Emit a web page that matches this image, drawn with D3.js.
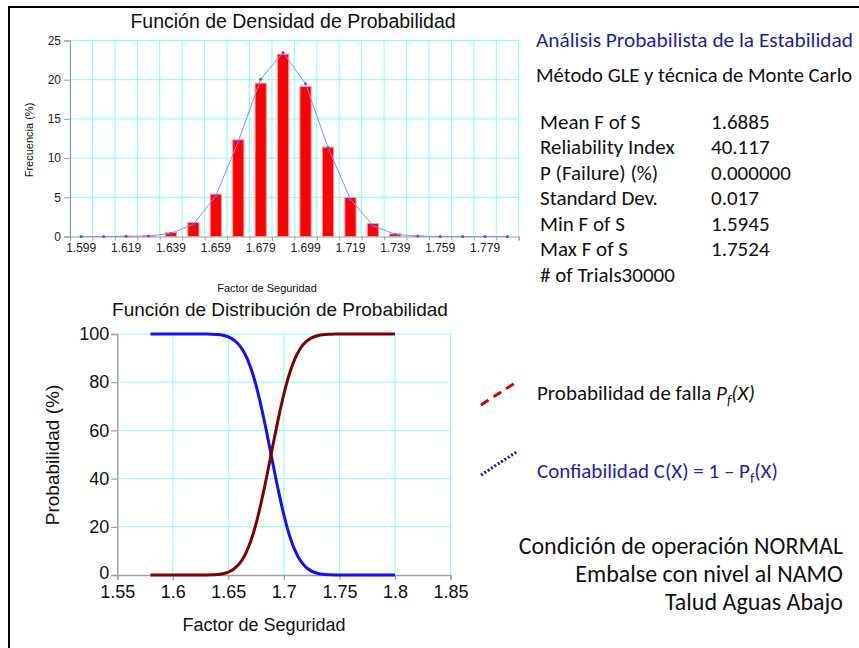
<!DOCTYPE html>
<html><head><meta charset="utf-8">
<script src="https://cdn.jsdelivr.net/npm/d3@7"></script>
<style>
html,body{margin:0;padding:0;background:#fff;}
svg{display:block;}
</style>
</head><body>
<svg id="c" width="859" height="648"></svg>
<script>
// ---------- DATA ----------
const histCenters = [1.599,1.609,1.619,1.629,1.639,1.649,1.659,1.669,1.679,1.689,1.699,1.709,1.719,1.729,1.739,1.749,1.759,1.769,1.779,1.789];
const histBars    = [0,0,0.04,0.13,0.51,1.79,5.40,12.33,19.56,23.26,19.13,11.39,4.97,1.66,0.34,0.08,0,0,0,0];
const histLine    = [0,0,0.02,0.06,0.38,1.57,5.19,12.12,20.07,23.47,19.47,11.35,4.76,1.40,0.26,0.05,0,0,0,0];
const histXTicks  = [1.599,1.619,1.639,1.659,1.679,1.699,1.719,1.739,1.759,1.779];
const histYTicks  = [0,5,10,15,20,25];

const cdfX = [1.580,1.585,1.590,1.595,1.600,1.605,1.610,1.615,1.620,1.625,1.630,1.635,1.640,1.645,1.650,1.655,1.660,1.665,1.670,1.675,1.680,1.685,1.690,1.695,1.700,1.705,1.710,1.715,1.720,1.725,1.730,1.735,1.740,1.745,1.750,1.755,1.760,1.765,1.770,1.775,1.780,1.785,1.790,1.795,1.800];
const pfValues   = [0,0,0,0,0,0,0,0,0,0.01,0.03,0.08,0.2,0.5,1.2,2.5,4.7,8.3,13.8,21.3,30.9,41.8,53.5,64.8,75.0,83.5,89.8,94.1,96.8,98.4,99.3,99.7,99.9,99.95,100,100,100,100,100,100,100,100,100,100,100];
const confValues = [100,100,100,100,100,100,100,100,100,99.99,99.97,99.92,99.8,99.5,98.8,97.5,95.3,91.7,86.2,78.7,69.1,58.2,46.5,35.2,25.0,16.5,10.2,5.9,3.2,1.6,0.7,0.3,0.1,0.05,0,0,0,0,0,0,0,0,0,0,0];
const cdfXTicks = [1.55,1.6,1.65,1.7,1.75,1.8,1.85];
const cdfYTicks = [0,20,40,60,80,100];

const statLabels = ["Mean F of S","Reliability Index","P (Failure) (%)","Standard Dev.","Min F of S","Max F of S","# of Trials"];
const statValues = ["1.6885","40.117","0.000000","0.017","1.5945","1.7524",""];
const footerLines = ["Condición de operación NORMAL","Embalse con nivel al NAMO","Talud Aguas Abajo"];

// ---------- DRAW ----------
const svg = d3.select("#c");
const ARIAL = "'Liberation Sans', Arial, sans-serif";
const CAL = "Carlito, Lato, sans-serif";
const GRID = "#80ffff";
const AXIS = "#a0a0a0";

svg.append("rect").attr("width",859).attr("height",648).attr("fill","#fff");
svg.append("rect").attr("x",9).attr("y",7).attr("width",900).attr("height",700)
  .attr("fill","none").attr("stroke","#000").attr("stroke-width",2);

// ===== Top histogram =====
const hx = d3.scaleLinear().domain([1.594,1.794]).range([70,518.7]);
const hy = d3.scaleLinear().domain([0,25]).range([236.5,40.5]);
const gTop = svg.append("g");
const cellEdges = d3.range(21).map(i => 1.594 + i*0.01);
gTop.append("g").selectAll("line").data(cellEdges).join("line")
  .attr("x1",d=>hx(d)).attr("x2",d=>hx(d)).attr("y1",hy(0)).attr("y2",hy(25))
  .attr("stroke",GRID).attr("stroke-width",1);
gTop.append("g").selectAll("line").data(histYTicks.slice(1)).join("line")
  .attr("x1",hx(1.594)).attr("x2",hx(1.794)).attr("y1",d=>hy(d)).attr("y2",d=>hy(d))
  .attr("stroke",GRID).attr("stroke-width",1);

const cellW = hx(1.604)-hx(1.594);
const bw = cellW*0.5;
gTop.append("g").selectAll("rect").data(histCenters.map((c,i)=>({c,v:histBars[i]})).filter(d=>d.v>0)).join("rect")
  .attr("x",d=>hx(d.c)-bw/2).attr("width",bw)
  .attr("y",d=>hy(d.v)).attr("height",d=>hy(0)-hy(d.v))
  .attr("fill","#ff0000").attr("stroke","#ff9a9a").attr("stroke-width",1);

const hAxisY = d3.axisLeft(hy).tickValues(histYTicks).tickSize(6).tickPadding(3).tickFormat(d3.format("d"));
const gy = gTop.append("g").attr("transform",`translate(${hx(1.594)},0)`).call(hAxisY);
gy.select(".domain").attr("stroke",AXIS).attr("stroke-width",1.2);
gy.selectAll(".tick line").attr("stroke",AXIS);
gy.selectAll(".tick text").attr("font-family",ARIAL).attr("font-size",12).attr("fill","#222");

const hAxisX = d3.axisBottom(hx).tickValues(cellEdges).tickSize(4).tickFormat("");
const gx = gTop.append("g").attr("transform",`translate(0,${hy(0)})`).call(hAxisX);
gx.select(".domain").attr("stroke",AXIS).attr("stroke-width",1.2);
gx.selectAll(".tick line").attr("stroke",AXIS);
gTop.append("g").selectAll("text").data(histXTicks).join("text")
  .attr("x",d=>hx(d)).attr("y",251.5).attr("text-anchor","middle")
  .attr("font-family",ARIAL).attr("font-size",12).attr("fill","#222")
  .text(d=>d3.format(".3f")(d));

const hl = d3.line().x((d,i)=>hx(histCenters[i])).y(d=>hy(d));
gTop.append("path").datum(histLine).attr("d",hl).attr("fill","none")
  .attr("stroke","#8c8cff").attr("stroke-width",1);
gTop.append("g").selectAll("circle").data(histLine).join("circle")
  .attr("cx",(d,i)=>hx(histCenters[i])).attr("cy",d=>hy(d)).attr("r",1.5)
  .attr("fill","#5050ff");

gTop.append("text").attr("x",293).attr("y",28).attr("text-anchor","middle")
  .attr("font-family",ARIAL).attr("font-size",19.5).attr("fill","#111")
  .text("Función de Densidad de Probabilidad");
gTop.append("text").attr("transform","translate(33,140) rotate(-90)").attr("text-anchor","middle")
  .attr("font-family",ARIAL).attr("font-size",11).attr("fill","#111")
  .text("Frecuencia (%)");
gTop.append("text").attr("x",267).attr("y",292).attr("text-anchor","middle")
  .attr("font-family",ARIAL).attr("font-size",11).attr("fill","#111")
  .text("Factor de Seguridad");

// ===== Bottom CDF =====
const cx = d3.scaleLinear().domain([1.55,1.85]).range([117.2,450.5]);
const cy = d3.scaleLinear().domain([0,100]).range([575,334]);
const gBot = svg.append("g");
gBot.append("g").selectAll("line").data(cdfXTicks.slice(1)).join("line")
  .attr("x1",d=>cx(d)).attr("x2",d=>cx(d)).attr("y1",cy(0)).attr("y2",cy(100))
  .attr("stroke",GRID).attr("stroke-width",1);
gBot.append("g").selectAll("line").data(cdfYTicks.slice(1)).join("line")
  .attr("x1",cx(1.55)).attr("x2",cx(1.85)).attr("y1",d=>cy(d)).attr("y2",d=>cy(d))
  .attr("stroke",GRID).attr("stroke-width",1);

const cAxisY = d3.axisLeft(cy).tickValues(cdfYTicks).tickSize(6).tickPadding(2);
const gcy = gBot.append("g").attr("transform",`translate(${cx(1.55)},0)`).call(cAxisY);
gcy.select(".domain").attr("stroke",AXIS).attr("stroke-width",1.5);
gcy.selectAll(".tick line").attr("stroke",AXIS).attr("stroke-width",1.2);
gcy.selectAll(".tick text").attr("font-family",ARIAL).attr("font-size",18).attr("fill","#111");
gcy.selectAll(".tick text").filter(d=>d===0).attr("dy","0.2em");

const cAxisX = d3.axisBottom(cx).tickValues(cdfXTicks).tickSize(5).tickPadding(5).tickFormat(d=>String(+d.toFixed(2)));
const gcx = gBot.append("g").attr("transform",`translate(0,${cy(0)})`).call(cAxisX);
gcx.select(".domain").attr("stroke",AXIS).attr("stroke-width",1.5);
gcx.selectAll(".tick line").attr("stroke",AXIS).attr("stroke-width",1.2);
gcx.selectAll(".tick text").attr("font-family",ARIAL).attr("font-size",18).attr("fill","#111");

const cl = d3.line().x((d,i)=>cx(cdfX[i])).y(d=>cy(d)).curve(d3.curveMonotoneX);
gBot.append("path").datum(confValues).attr("d",cl).attr("fill","none")
  .attr("stroke","#1010ff").attr("stroke-width",3);
gBot.append("path").datum(pfValues).attr("d",cl).attr("fill","none")
  .attr("stroke","#800000").attr("stroke-width",3);

gBot.append("text").attr("x",280).attr("y",316).attr("text-anchor","middle")
  .attr("font-family",ARIAL).attr("font-size",19).attr("fill","#111")
  .text("Función de Distribución de Probabilidad");
gBot.append("text").attr("transform","translate(59,455) rotate(-90)").attr("text-anchor","middle")
  .attr("font-family",ARIAL).attr("font-size",19).attr("fill","#111")
  .text("Probabilidad (%)");
gBot.append("text").attr("x",264).attr("y",631).attr("text-anchor","middle")
  .attr("font-family",ARIAL).attr("font-size",18).attr("fill","#111")
  .text("Factor de Seguridad");

// ===== Right text panel =====
const rp = svg.append("g").attr("font-family",CAL);
rp.append("text").attr("x",536).attr("y",47).attr("font-size",21.3).attr("fill","#1f1f9c")
  .text("Análisis Probabilista de la Estabilidad");
rp.append("text").attr("x",536).attr("y",82).attr("font-size",20.6).attr("fill","#111")
  .text("Método GLE y técnica de Monte Carlo");
statLabels.forEach((l,i)=>{
  const y = 128.5 + i*25.5;
  const t = rp.append("text").attr("x",540).attr("y",y).attr("font-size",21).attr("fill","#111");
  if (i === statLabels.length-1) { t.text(l + "30000"); }
  else {
    t.text(l);
    rp.append("text").attr("x",711).attr("y",y).attr("font-size",21).attr("fill","#111").text(statValues[i]);
  }
});

rp.append("line").attr("x1",481).attr("y1",405).attr("x2",518).attr("y2",381)
  .attr("stroke","#d40000").attr("stroke-width",3).attr("stroke-dasharray","9,6");
rp.append("line").attr("x1",481).attr("y1",475).attr("x2",518).attr("y2",451)
  .attr("stroke","#1a1aa8").attr("stroke-width",3).attr("stroke-dasharray","2,2");
const l1 = rp.append("text").attr("x",537).attr("y",400).attr("font-size",21).attr("fill","#111");
l1.append("tspan").text("Probabilidad de falla ");
l1.append("tspan").attr("font-style","italic").text("P");
l1.append("tspan").attr("font-style","italic").attr("font-size",14).attr("dy",5).text("f");
l1.append("tspan").attr("font-style","italic").attr("dy",-5).text("(X)");
const l2 = rp.append("text").attr("x",537).attr("y",478).attr("font-size",21).attr("fill","#2323b0");
l2.append("tspan").text("Confiabilidad  C(X) = 1 – P");
l2.append("tspan").attr("font-size",14).attr("dy",5).text("f");
l2.append("tspan").attr("dy",-5).text("(X)");

footerLines.forEach((t,i)=>{
  rp.append("text").attr("x",843).attr("y",553.5 + i*28).attr("text-anchor","end")
    .attr("font-size",24).attr("fill","#111").text(t);
});
</script>
</body></html>
